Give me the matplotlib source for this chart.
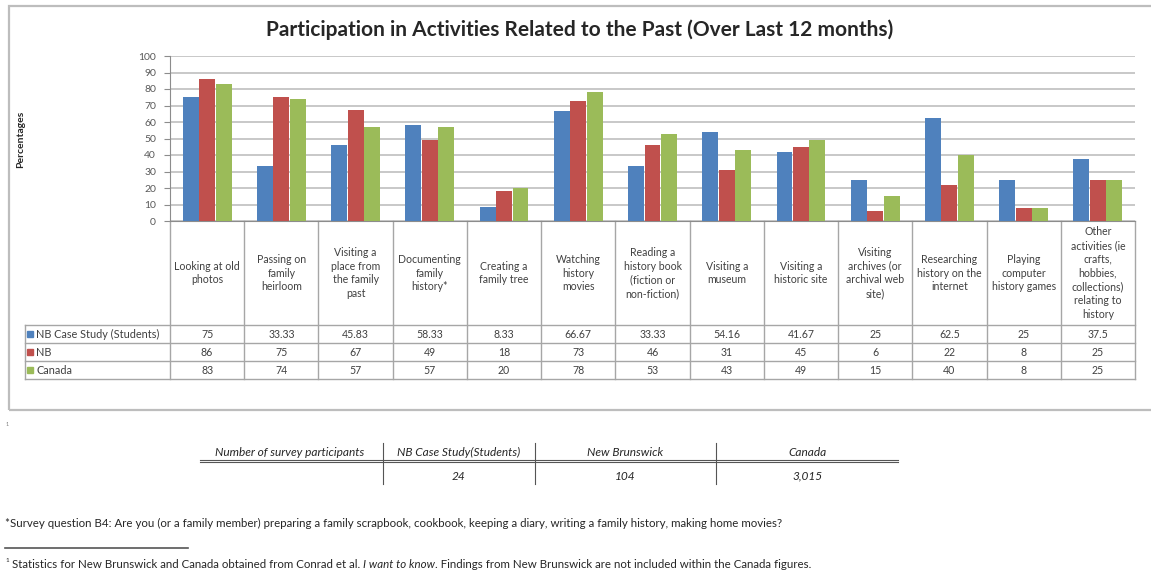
import numpy as np
import matplotlib.pyplot as plt
from matplotlib.lines import Line2D
from matplotlib.patches import Rectangle
from matplotlib.transforms import blended_transform_factory

plt.rcParams['font.family'] = ['Lato', 'DejaVu Sans']

# data
categories = ["Looking at old\nphotos", "Passing on\nfamily\nheirloom",
              "Visiting a\nplace from\nthe family\npast", "Documenting\nfamily\nhistory*",
              "Creating a\nfamily tree", "Watching\nhistory\nmovies",
              "Reading a\nhistory book\n(fiction or\nnon-fiction)", "Visiting a\nmuseum",
              "Visiting a\nhistoric site", "Visiting\narchives (or\narchival web\nsite)",
              "Researching\nhistory on the\ninternet", "Playing\ncomputer\nhistory games",
              "Other\nactivities (ie\ncrafts,\nhobbies,\ncollections)\nrelating to\nhistory"]
nb_case = [75, 33.33, 45.83, 58.33, 8.33, 66.67, 33.33, 54.16, 41.67, 25, 62.5, 25, 37.5]
nb = [86, 75, 67, 49, 18, 73, 46, 31, 45, 6, 22, 8, 25]
canada = [83, 74, 57, 57, 20, 78, 53, 43, 49, 15, 40, 8, 25]
series_names = ["NB Case Study (Students)", "NB", "Canada"]
colors = ["#4F81BD", "#C0504D", "#9BBB59"]

part_headers = ["Number of survey participants", "NB Case Study(Students)", "New Brunswick", "Canada"]
part_counts = ["24", "104", "3,015"]

W, H = 1151, 574
fig = plt.figure(figsize=(W / 100, H / 100), dpi=100)
renderer = fig.canvas.get_renderer()

def fx(px):
    return px / W

def fy(py):
    return 1 - py / H

txt_col = "#404040"
grid_col = "#BFBFBF"

# outer chart frame
fig.patches.append(Rectangle((fx(9), fy(410)), fx(1160) - fx(9), fy(6) - fy(410),
                             transform=fig.transFigure, fill=False, ec="#BDBDBD", lw=1.6))

# plot area: x 170..1135, y 56..221 px
ax_left, ax_right, ax_top, ax_bot = 170, 1135, 56, 221
ax = fig.add_axes([fx(ax_left), fy(ax_bot), fx(ax_right) - fx(ax_left), fy(ax_top) - fy(ax_bot)])

n = len(categories)
x = np.arange(n)
bw = 0.215
for i, vals in enumerate([nb_case, nb, canada]):
    ax.bar(x + (i - 1) * 0.222, vals, bw, color=colors[i], zorder=3)

ax.set_xlim(-0.5, n - 0.5)
ax.set_ylim(0, 100)
ax.set_yticks(np.arange(0, 101, 10))
ax.yaxis.grid(True, color=grid_col, lw=1.2, zorder=0)
ax.tick_params(axis='y', labelsize=7.5, labelcolor="#595959", color="#8C8C8C", length=4, pad=6)
ax.set_xticks([])
for s in ['top', 'right']:
    ax.spines[s].set_visible(False)
ax.spines['left'].set_color("#8C8C8C")
ax.spines['bottom'].set_color("#8C8C8C")

fig.text(fx(580), fy(30), "Participation in Activities Related to the Past (Over Last 12 months)",
         ha='center', va='center', fontsize=15, fontweight='bold', color="#262626")
fig.text(fx(21), fy(139), "Percentages", rotation=90, ha='center', va='center',
         fontsize=7.5, fontweight='bold', color="#262626")

# data table below the plot (x in data units, y in axes fraction)
trans = blended_transform_factory(ax.transData, ax.transAxes)
ax_h = ax_bot - ax_top

def ay(py):
    return (ax_bot - py) / ax_h

row_tops = [325, 343, 361, 379]
x_leg = -0.5 + (25 - ax_left) / ((ax_right - ax_left) / n)

line_kw = dict(transform=trans, color="#A6A6A6", lw=1.0, clip_on=False)
for b in np.arange(n + 1) - 0.5:
    ax.add_line(Line2D([b, b], [ay(221), ay(379)], **line_kw))
for r in row_tops:
    ax.add_line(Line2D([x_leg, n - 0.5], [ay(r), ay(r)], **line_kw))
ax.add_line(Line2D([x_leg, x_leg], [ay(325), ay(379)], **line_kw))

for i, lab in enumerate(categories):
    ax.text(i, ay(273), lab, transform=trans, ha='center', va='center', fontsize=7.6,
            color=txt_col, linespacing=1.3, clip_on=False)

for r, (name, vals) in enumerate(zip(series_names, [nb_case, nb, canada])):
    yc = ay((row_tops[r] + row_tops[r + 1]) / 2)
    ax.plot([x_leg + 0.07], [yc], marker='s', ms=4, color=colors[r], transform=trans, clip_on=False)
    ax.text(x_leg + 0.15, yc, name, transform=trans, ha='left', va='center', fontsize=7.8,
            color=txt_col, clip_on=False)
    for i, v in enumerate(vals):
        ax.text(i, yc, f"{v:g}", transform=trans, ha='center', va='center', fontsize=7.6,
                color=txt_col, clip_on=False)

fig.text(fx(6), fy(425), "1", fontsize=4, color="#7F7F7F", ha='left', va='center')

# survey participants table
col_centers = [290, 459, 625, 808]
for c, h in zip(col_centers, part_headers):
    fig.text(fx(c), fy(452), h, ha='center', va='center', fontsize=8.6, style='italic', color="#262626")
for c, v in zip(col_centers[1:], part_counts):
    fig.text(fx(c), fy(476), v, ha='center', va='center', fontsize=8.6, style='italic', color="#262626")
fig.add_artist(Line2D([fx(200), fx(898)], [fy(460), fy(460)], transform=fig.transFigure, color="#555555", lw=0.8))
fig.add_artist(Line2D([fx(200), fx(898)], [fy(462), fy(462)], transform=fig.transFigure, color="#555555", lw=0.8))
for sx in [383, 535, 716]:
    fig.add_artist(Line2D([fx(sx), fx(sx)], [fy(443), fy(484)], transform=fig.transFigure, color="#555555", lw=0.8))

# footnotes
fig.text(fx(5), fy(523), "*Survey question B4: Are you (or a family member) preparing a family scrapbook, cookbook, "
         "keeping a diary, writing a family history, making home movies?",
         ha='left', va='center', fontsize=8.3, color="#262626")
fig.add_artist(Line2D([fx(5), fx(188)], [fy(548), fy(548)], transform=fig.transFigure, color="#555555", lw=1.2))

# second footnote: chain pieces so the italic title sits inline
pieces = [("1", dict(fontsize=4.5), 3),
          (" Statistics for New Brunswick and Canada obtained from Conrad et al. ", dict(fontsize=8.3), 0),
          ("I want to know", dict(fontsize=8.3, style='italic'), 0),
          (". Findings from New Brunswick are not included within the Canada figures.", dict(fontsize=8.3), 0)]
xpos = 5
for s, kw, dy in pieces:
    t = fig.text(fx(xpos), fy(564 - dy), s, ha='left', va='center', color="#262626", **kw)
    bb = t.get_window_extent(renderer)
    xpos += bb.width

fig.savefig("out.png", dpi=100)
